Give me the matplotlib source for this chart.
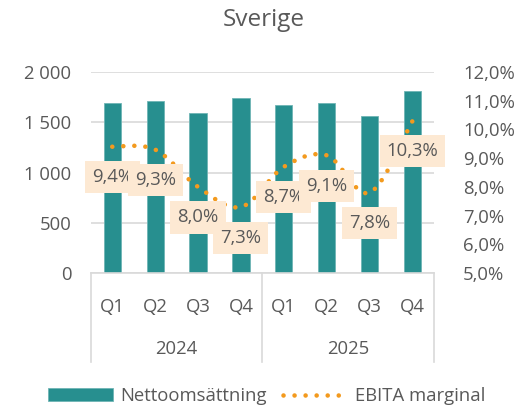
import matplotlib.pyplot as plt
import numpy as np
from matplotlib.path import Path
from matplotlib.patches import PathPatch
from matplotlib.lines import Line2D
from matplotlib.ticker import FuncFormatter

plt.rcParams['font.family'] = ['Open Sans', 'DejaVu Sans']

quarters = ["Q1", "Q2", "Q3", "Q4", "Q1", "Q2", "Q3", "Q4"]
years = ["2024", "2025"]
nettoomsattning = [1690, 1712, 1590, 1742, 1668, 1690, 1565, 1812]
ebita_marginal = [9.4, 9.3, 8.0, 7.3, 8.7, 9.1, 7.8, 10.3]

grey = "#595959"
teal = "#278F8F"
orange = "#F39A1E"
fs = 13.3

fig = plt.figure(figsize=(5.28, 4.07), dpi=100)
ax = fig.add_axes([0.172, 0.329, 0.650, 0.494])
ax2 = ax.twinx()

x = np.arange(len(quarters))
ax.bar(x, nettoomsattning, width=0.4, color=teal, edgecolor="#6FB5B5", linewidth=0.6,
       label="Nettoomsättning", zorder=2)
ax.set_xlim(-0.5, len(quarters) - 0.5)
ax.set_ylim(0, 2000)
ax.set_yticks([0, 500, 1000, 1500, 2000])
ax.yaxis.set_major_formatter(FuncFormatter(lambda v, p: f"{v:,.0f}".replace(",", " ")))
ax.grid(axis="y", color="#D9D9D9", linewidth=1.2, zorder=0)
ax.set_axisbelow(True)
for s in ["top", "right", "left"]:
    ax.spines[s].set_visible(False)
ax.spines["bottom"].set_color("#D9D9D9")
ax.spines["bottom"].set_linewidth(1.2)
ax.tick_params(axis="y", length=0, labelsize=fs, labelcolor=grey, pad=14)
ax.set_xticks([])

# smoothed dotted line (bezier through the data points)
pts = np.column_stack([x, ebita_marginal]).astype(float)
verts = [pts[0]]
codes = [Path.MOVETO]
n = len(pts)
for i in range(n - 1):
    p0 = pts[i - 1] if i > 0 else pts[i]
    p1 = pts[i]
    p2 = pts[i + 1]
    p3 = pts[i + 2] if i + 2 < n else pts[i + 1]
    verts += [p1 + (p2 - p0) / 6, p2 - (p3 - p1) / 6, p2]
    codes += [Path.CURVE4] * 3
dots = (0, (0.01, 2.4))
ax2.add_patch(PathPatch(Path(verts, codes), fill=False, edgecolor=orange, linewidth=3.3,
                        linestyle=dots, capstyle="round", zorder=3))
ax2.plot([], [], color=orange, linewidth=3.3, linestyle=dots,
         dash_capstyle="round", label="EBITA marginal")
ax2.set_ylim(5, 12)
ax2.set_yticks(np.arange(5, 12.5, 1))
ax2.yaxis.set_major_formatter(FuncFormatter(lambda v, p: f"{v:.1f}%".replace(".", ",")))
for s in ax2.spines.values():
    s.set_visible(False)
ax2.tick_params(axis="y", length=0, labelsize=fs, labelcolor=grey, pad=21)

for xi, v in zip(x, ebita_marginal):
    ax2.annotate(f"{v:.1f}%".replace(".", ","), (xi, v), xytext=(0, -22),
                 textcoords="offset points", ha="center", va="center",
                 fontsize=fs, color=grey, zorder=5,
                 bbox=dict(boxstyle="square,pad=0.38", fc="#FDE9D3", ec="none"))

# hierarchical category axis
tr = ax.get_xaxis_transform()
for xi, q in zip(x, quarters):
    ax.text(xi, -0.17, q, transform=tr, ha="center", va="center", fontsize=fs, color=grey)
for j, yr in enumerate(years):
    ax.text(j * 4 + 1.5, -0.38, yr, transform=tr, ha="center", va="center", fontsize=fs, color=grey)
for xb in [-0.5, 3.5, 7.5]:
    ax.add_line(Line2D([xb, xb], [0, -0.44], transform=tr, color="#D9D9D9",
                       linewidth=1.2, clip_on=False))

fig.text(0.5, 0.95, "Sverige", ha="center", va="center", fontsize=17.5, color=grey)

h1, l1 = ax.get_legend_handles_labels()
h2, l2 = ax2.get_legend_handles_labels()
fig.legend(h1 + h2, l1 + l2, loc="center", bbox_to_anchor=(0.505, 0.027), ncol=2,
           frameon=False, fontsize=fs, labelcolor=grey, handlelength=3.5,
           handleheight=0.7, columnspacing=0.9, handletextpad=0.4)

fig.savefig("out.png", dpi=100)
